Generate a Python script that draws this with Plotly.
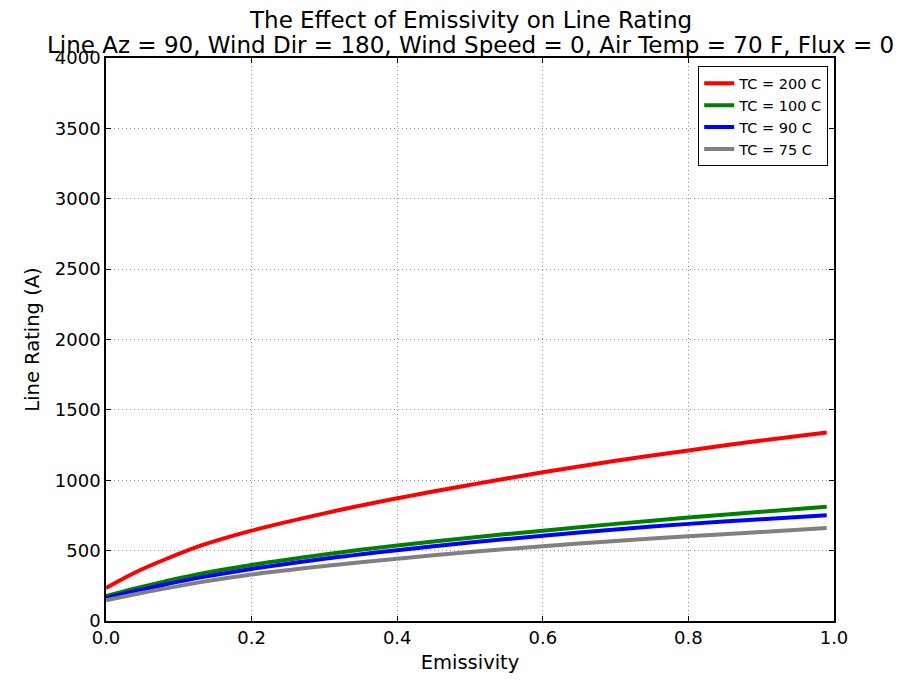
import plotly.graph_objects as go

# Data (emissivity vs. line rating in amps)
emissivity = [0.0, 0.04, 0.08, 0.13, 0.2, 0.3, 0.4, 0.5, 0.6, 0.7, 0.8, 0.9, 0.99]
tc_200 = [235, 345, 435, 535, 642, 765, 872, 967, 1057, 1138, 1212, 1282, 1340]
tc_100 = [177, 232, 280, 336, 398, 472, 537, 592, 642, 690, 735, 776, 812]
tc_90 = [163, 213, 258, 310, 370, 443, 503, 557, 606, 650, 690, 723, 752]
tc_75 = [147, 190, 230, 276, 330, 390, 443, 490, 531, 568, 602, 632, 660]

series = [('TC = 200 C', tc_200, '#ff0000'),
          ('TC = 100 C', tc_100, '#008000'),
          ('TC = 90 C', tc_90, '#0000ff'),
          ('TC = 75 C', tc_75, '#808080')]

font = 'DejaVu Sans, sans-serif'

fig = go.Figure()
for name, vals, col in series:
    fig.add_trace(go.Scatter(x=emissivity, y=vals, name=name, mode='lines',
                             line=dict(color=col, width=4, shape='spline', smoothing=0.9)))

axis_style = dict(showline=True, linecolor='black', linewidth=1.5, mirror='allticks',
                  ticks='inside', ticklen=5, tickcolor='black', automargin=False,
                  showgrid=True, gridcolor='#909090', griddash='1px,3px', gridwidth=1,
                  zeroline=False, tickfont=dict(size=18, color='black'))

# the page body adds ~8px offset, so the margins are shifted to compensate
fig.update_layout(
    width=920, height=680,
    margin=dict(l=98, r=94, t=50, b=67),
    plot_bgcolor='white', paper_bgcolor='white',
    font=dict(family=font, color='black'),
    showlegend=True,
    legend=dict(x=0.992, y=0.985, xanchor='right', yanchor='top',
                bordercolor='black', borderwidth=1, bgcolor='white',
                font=dict(size=14.5), itemwidth=30, tracegroupgap=0),
    xaxis=dict(range=[0, 1], dtick=0.2, tickformat='.1f',
               title=dict(text='Emissivity', font=dict(size=19.5), standoff=8), **axis_style),
    yaxis=dict(range=[0, 4000], dtick=500,
               title=dict(text='Line Rating (A)', font=dict(size=19.5), standoff=10), **axis_style),
    annotations=[
        dict(text='The Effect of Emissivity on Line Rating', x=0.5, y=1.0, xref='paper', yref='paper',
             yanchor='middle', yshift=38, showarrow=False, font=dict(size=23)),
        dict(text='Line Az = 90, Wind Dir = 180, Wind Speed = 0, Air Temp = 70 F, Flux = 0',
             x=0.5, y=1.0, xref='paper', yref='paper', yanchor='middle', yshift=13,
             showarrow=False, font=dict(size=23)),
    ],
)

fig.write_html("out.html")
